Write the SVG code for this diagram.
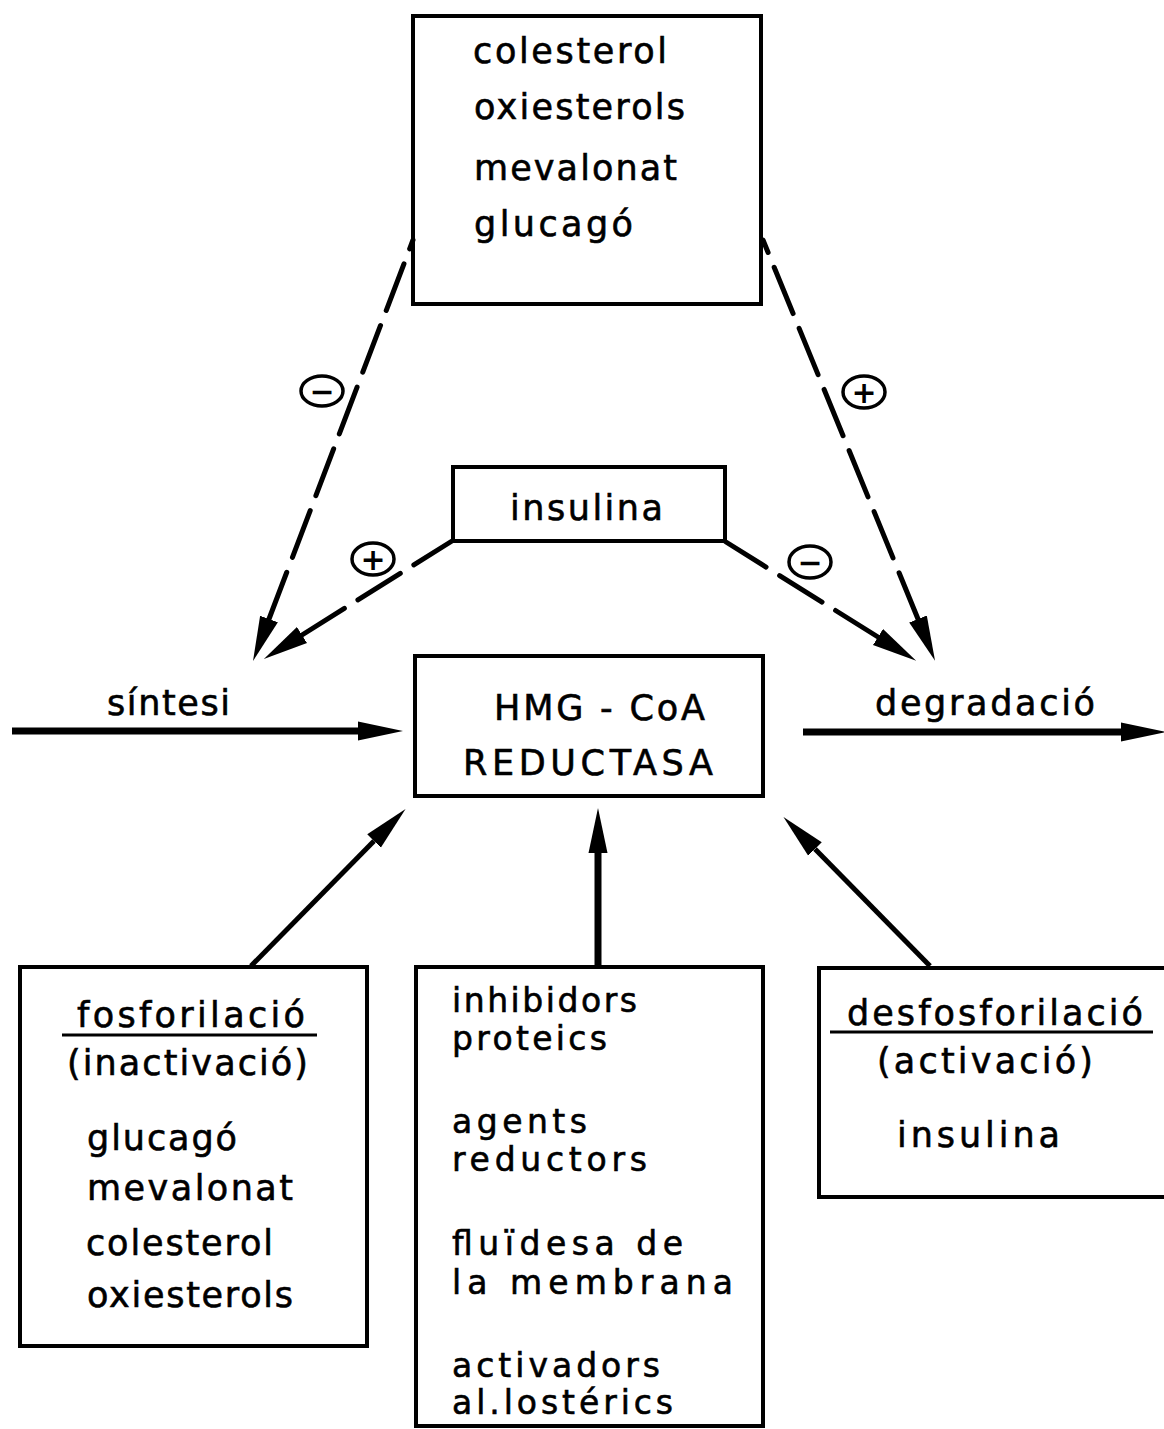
<svg xmlns="http://www.w3.org/2000/svg" xmlns:xlink="http://www.w3.org/1999/xlink" width="1164" height="1429" viewBox="0 0 1164 1429">
  <style>
    .box { fill: none; stroke: #000; stroke-width: 4; }
    .t { font-family: "DejaVu Sans", "Liberation Sans", sans-serif; font-size: 35px; fill: #000; stroke: #000; stroke-width: 0.6; }
    .tight { font-size: 33px; }
    .rule { stroke: #000; stroke-width: 3; }
    .dash { fill: none; stroke: #000; stroke-width: 5; stroke-dasharray: 50 16; stroke-linecap: round; }
    .solid { fill: none; stroke: #000; stroke-width: 5; }
    .thick { fill: none; stroke: #000; stroke-width: 7; }
    .sign { fill: #fff; stroke: #000; stroke-width: 3.5; }
    .signtxt { font-family: "DejaVu Sans", "Liberation Sans", sans-serif; font-weight: bold; font-size: 30px; fill: #000; text-anchor: middle; }
  </style>
  <defs>
    <!-- narrow filled arrowhead; its base sits on the end of the line -->
    <marker id="head" markerUnits="userSpaceOnUse" markerWidth="48" markerHeight="24" refX="0" refY="12" orient="auto-start-reverse">
      <path d="M0,2.5 L45,12 L0,21.5 Z" fill="#000"/>
    </marker>
  </defs>

  <rect width="1164" height="1429" fill="#fff"/>

  <!-- regulators -->
  <g id="regulators">
    <rect class="box" x="413" y="16" width="348" height="288"/>
    <text class="t" x="473" y="63" textLength="194" lengthAdjust="spacing">colesterol</text>
    <text class="t" x="474" y="119" textLength="211" lengthAdjust="spacing">oxiesterols</text>
    <text class="t" x="474" y="180" textLength="203" lengthAdjust="spacing">mevalonat</text>
    <text class="t" x="474" y="236" textLength="159" lengthAdjust="spacing">glucagó</text>
  </g>

  <g id="insulina">
    <rect class="box" x="453" y="467" width="272" height="74"/>
    <text class="t" x="510" y="520" textLength="153" lengthAdjust="spacing">insulina</text>
  </g>

  <g id="hmg-coa-reductasa">
    <rect class="box" x="415" y="656" width="348" height="140"/>
    <text class="t" x="494" y="720" textLength="211" lengthAdjust="spacing">HMG - CoA</text>
    <text class="t" x="463" y="775" textLength="250" lengthAdjust="spacing">REDUCTASA</text>
  </g>

  <g id="fosforilacio">
    <rect class="box" x="20" y="967" width="347" height="379"/>
    <text class="t" x="77" y="1027" textLength="228" lengthAdjust="spacing">fosforilació</text>
    <line class="rule" x1="62" y1="1035" x2="317" y2="1035"/>
    <text class="t" x="67" y="1075" textLength="241" lengthAdjust="spacing">(inactivació)</text>
    <text class="t" x="87" y="1150" textLength="150" lengthAdjust="spacing">glucagó</text>
    <text class="t" x="87" y="1200" textLength="206" lengthAdjust="spacing">mevalonat</text>
    <text class="t" x="86" y="1255" textLength="187" lengthAdjust="spacing">colesterol</text>
    <text class="t" x="87" y="1307" textLength="206" lengthAdjust="spacing">oxiesterols</text>
  </g>

  <g id="modulators">
    <rect class="box" x="416" y="967" width="347" height="459"/>
    <text class="t tight" x="452" y="1012" textLength="185" lengthAdjust="spacing">inhibidors</text>
    <text class="t tight" x="452" y="1050" textLength="155" lengthAdjust="spacing">proteics</text>
    <text class="t tight" x="452" y="1133" textLength="135" lengthAdjust="spacing">agents</text>
    <text class="t tight" x="452" y="1171" textLength="195" lengthAdjust="spacing">reductors</text>
    <text class="t tight" x="452" y="1255" textLength="231" lengthAdjust="spacing">fluïdesa  de</text>
    <text class="t tight" x="452" y="1294" textLength="281" lengthAdjust="spacing">la  membrana</text>
    <text class="t tight" x="452" y="1377" textLength="208" lengthAdjust="spacing">activadors</text>
    <text class="t tight" x="452" y="1414" textLength="221" lengthAdjust="spacing">al.lostérics</text>
  </g>

  <g id="desfosforilacio">
    <rect class="box" x="819" y="968" width="360" height="229"/>
    <text class="t" x="847" y="1025" textLength="296" lengthAdjust="spacing">desfosforilació</text>
    <line class="rule" x1="830" y1="1032" x2="1153" y2="1032"/>
    <text class="t" x="877" y="1073" textLength="216" lengthAdjust="spacing">(activació)</text>
    <text class="t" x="897" y="1147" textLength="163" lengthAdjust="spacing">insulina</text>
  </g>

  <!-- flux labels -->
  <g id="sintesi">
    <text class="t" x="107" y="715" textLength="123" lengthAdjust="spacing">síntesi</text>
  </g>
  <g id="degradacio">
    <text class="t" x="875" y="715" textLength="220" lengthAdjust="spacing">degradació</text>
  </g>

  <g id="connectors">
    <!-- dashed regulatory arrows, drawn from the arrowhead back to the source -->
    <path class="dash" d="M269,619 L413,240" marker-start="url(#head)"/>
    <path class="dash" d="M302,635 L452,541" marker-start="url(#head)"/>
    <path class="dash" d="M918,619 L763,240" marker-start="url(#head)"/>
    <path class="dash" d="M878,637 L726,542" marker-start="url(#head)"/>

    <!-- synthesis and degradation flux -->
    <path class="thick" d="M12,731 L358,731" marker-end="url(#head)"/>
    <path class="thick" d="M803,732 L1121,732" marker-end="url(#head)"/>

    <!-- modulation arrows from the lower boxes -->
    <path class="solid" d="M251,966 L374,841" marker-end="url(#head)"/>
    <path class="thick" d="M598,966 L598,853" marker-end="url(#head)"/>
    <path class="solid" d="M930,966 L815,849" marker-end="url(#head)"/>

    <!-- effect signs -->
    <ellipse class="sign" cx="322" cy="391" rx="21" ry="15"/>
    <text class="signtxt" x="322" y="402">−</text>
    <ellipse class="sign" cx="373" cy="559" rx="21" ry="16"/>
    <text class="signtxt" x="373" y="570">+</text>
    <ellipse class="sign" cx="864" cy="392" rx="21" ry="16"/>
    <text class="signtxt" x="864" y="403">+</text>
    <ellipse class="sign" cx="810" cy="562" rx="21" ry="16"/>
    <text class="signtxt" x="810" y="573">−</text>
  </g>
</svg>
